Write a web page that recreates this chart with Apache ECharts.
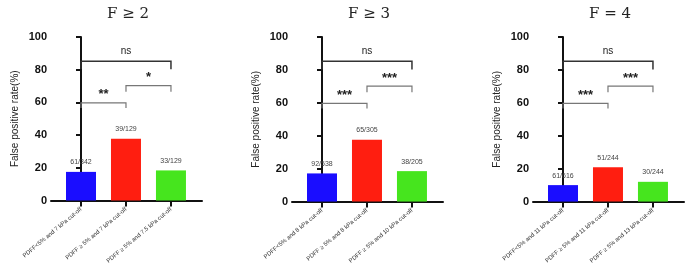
<!DOCTYPE html>
<html><head><meta charset="utf-8">
<script src="https://cdn.jsdelivr.net/npm/echarts@6/dist/echarts.min.js"></script>
<style>html,body{margin:0;padding:0;background:#fff}#c{width:685px;height:266px}</style>
</head><body><div id="c"></div>
<script>
const titles = ['F \u2265 2', 'F \u2265 3', 'F = 4'];
const categories1 = ['PDFF<5% and 7 kPa cut-off', 'PDFF \u2265 5% and 7 kPa cut-off', 'PDFF \u2265 5% and 7.5 kPa cut-off'];
const categories2 = ['PDFF<5% and 8 kPa cut-off', 'PDFF \u2265 5% and 8 kPa cut-off', 'PDFF \u2265 5% and 10 kPa cut-off'];
const categories3 = ['PDFF<5% and 11 kPa cut-off', 'PDFF \u2265 5% and 11 kPa cut-off', 'PDFF \u2265 5% and 13 kPa cut-off'];
const values1 = [17.5, 37.7, 18.4];
const values2 = [17.1, 37.6, 18.5];
const values3 = [10.0, 20.8, 12.0];
const counts1 = ['61/342', '39/129', '33/129'];
const counts2 = ['92/538', '65/305', '38/205'];
const counts3 = ['61/616', '51/244', '30/244'];
const signif1 = ['ns', '**', '*'];
const signif2 = ['ns', '***', '***'];
const signif3 = ['ns', '***', '***'];
const yTicks = [0, 20, 40, 60, 80, 100];
// brackets: [from, to, topValue, legValue]
const bracketPairs = [[0, 2, 85.2, 80.2], [0, 1, 59.7, 56.5], [1, 2, 70.2, 66.5]];

const barColors = ['#1a0dff', '#ff1e10', '#46e51e'];
const lefts = [51, 292, 533];
const panels = [
  {cats: categories1, vals: values1, counts: counts1, sig: signif1},
  {cats: categories2, vals: values2, counts: counts2, sig: signif2},
  {cats: categories3, vals: values3, counts: counts3, sig: signif3}
];

const grid = [], xAxis = [], yAxis = [], series = [], title = [];
panels.forEach((p, i) => {
  grid.push({left: lefts[i], top: 37, width: 151, height: 167});
  title.push({text: titles[i], left: lefts[i] + 75 - 24, top: 2,
    textStyle: {fontFamily: 'DejaVu Serif', fontWeight: 'normal', fontSize: 15, color: '#222'}});
  xAxis.push({type: 'value', gridIndex: i, min: -0.667, max: 2.69,
    splitLine: {show: false},
    axisLine: {show: true, onZero: false, lineStyle: {color: '#111', width: 2}},
    axisTick: {show: true, customValues: [0, 1, 2], length: 6, lineStyle: {color: '#111', width: 2}},
    axisLabel: {customValues: [0, 1, 2], rotate: 40, fontSize: 6, color: '#333', margin: 8,
      fontFamily: 'Liberation Sans',
      formatter: v => p.cats[Math.round(v)]}
  });
  yAxis.push({type: 'value', gridIndex: i, min: 0, max: 100, interval: 20,
    splitLine: {show: false},
    axisLine: {show: true, lineStyle: {color: '#111', width: 2}},
    axisTick: {show: true, length: 5, lineStyle: {color: '#111', width: 2}},
    axisLabel: {fontSize: 11, fontWeight: 'bold', color: '#111', margin: 4, fontFamily: 'Liberation Sans'},
    name: 'False positive rate(%)', nameLocation: 'middle', nameGap: 31,
    nameTextStyle: {fontSize: 10, color: '#222', fontFamily: 'Liberation Sans'}
  });
  series.push({type: 'bar', xAxisIndex: i, yAxisIndex: i, barWidth: 30,
    data: p.vals.map((v, k) => ({value: [k, v], itemStyle: {color: barColors[k]}})),
    label: {show: true, position: 'top', distance: 6, fontSize: 7, color: '#444',
      fontFamily: 'Liberation Sans', formatter: prm => p.counts[prm.dataIndex]}
  });
  series.push({type: 'custom', xAxisIndex: i, yAxisIndex: i, silent: true,
    data: bracketPairs.map((b, k) => [b[0], b[1], b[2], b[3], k]),
    renderItem: (params, api) => {
      const k = api.value(4);
      const a = api.coord([api.value(0), api.value(2)]);
      const b = api.coord([api.value(1), api.value(2)]);
      const a2 = api.coord([api.value(0), api.value(3)]);
      const b2 = api.coord([api.value(1), api.value(3)]);
      const isNs = k === 0;
      const col = isNs ? '#333' : '#777';
      const txt = p.sig[k];
      return {type: 'group', children: [
        {type: 'polyline', shape: {points: [[a2[0], a2[1]], [a[0], a[1]], [b[0], b[1]], [b2[0], b2[1]]]},
          style: {stroke: col, lineWidth: isNs ? 1.5 : 1.2, fill: null}},
        {type: 'text', x: (a[0] + b[0]) / 2, y: a[1] - (isNs ? 10 : 8),
          style: {text: txt, fill: '#222', align: 'center', verticalAlign: 'middle',
            fontSize: isNs ? 10 : 13, fontWeight: isNs ? 'normal' : 'bold', fontFamily: 'Liberation Sans'}}
      ]};
    }
  });
});

const chart = echarts.init(document.getElementById('c'), null, {renderer: 'canvas'});
chart.setOption({animation: false, title, grid, xAxis, yAxis, series});
</script></body></html>
